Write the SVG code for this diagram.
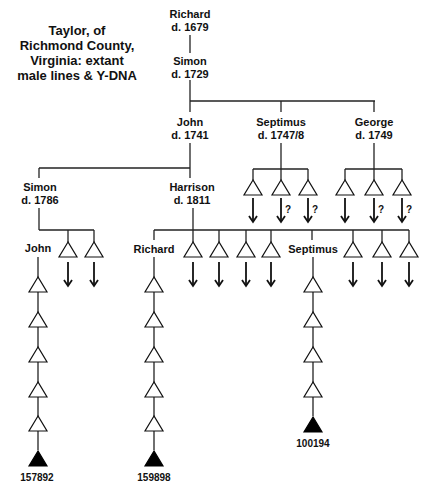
<svg xmlns="http://www.w3.org/2000/svg" xmlns:xlink="http://www.w3.org/1999/xlink" width="426" height="489" viewBox="0 0 426 489">
<style>
text{font-family:"Liberation Sans",Arial,sans-serif;font-weight:bold;fill:#111;text-anchor:middle}
.t{font-size:13px}
.n{font-size:11px}
.num{font-size:10px}
.q{font-size:10px;text-anchor:start}
.ln{stroke:#222;stroke-width:1.3;fill:none}
.tri{fill:#fff;stroke:#111;stroke-width:1.2}
.ftri{fill:#000;stroke:#000;stroke-width:1.2}
.arr{stroke:#111;stroke-width:1.8;fill:none}
</style>
<defs>
<path id="tri" d="M0,0 L-9,15 L9,15 Z"/>
<g id="arrow"><line x1="0" y1="0" x2="0" y2="24"/><polyline points="-4,18 0,24 4,18"/></g>
</defs>
<rect width="426" height="489" fill="#fff"/>
<g id="title">
<text class="t" x="77" y="35">Taylor, of</text>
<text class="t" x="77" y="50">Richmond County,</text>
<text class="t" x="77" y="65">Virginia: extant</text>
<text class="t" x="77" y="80">male lines &amp; Y-DNA</text>
</g>
<g id="connectors" class="ln">
<line x1="190" y1="35" x2="190" y2="53"/>
<line x1="190" y1="80" x2="190" y2="101"/>
<line x1="190" y1="101" x2="375" y2="101"/>
<line x1="190" y1="101" x2="190" y2="112"/>
<line x1="281" y1="101" x2="281" y2="112"/>
<line x1="374" y1="101" x2="374" y2="112"/>
<line x1="190" y1="143" x2="190" y2="178"/>
<line x1="39" y1="168" x2="190" y2="168"/>
<line x1="39" y1="168" x2="39" y2="178"/>
<line x1="281" y1="143" x2="281" y2="180"/>
<line x1="253" y1="169" x2="308" y2="169"/>
<line x1="253" y1="169" x2="253" y2="180"/>
<line x1="308" y1="169" x2="308" y2="180"/>
<line x1="374" y1="143" x2="374" y2="180"/>
<line x1="345" y1="169" x2="402" y2="169"/>
<line x1="345" y1="169" x2="345" y2="180"/>
<line x1="402" y1="169" x2="402" y2="180"/>
<line x1="39" y1="208" x2="39" y2="230"/>
<line x1="39" y1="230" x2="94" y2="230"/>
<line x1="68" y1="230" x2="68" y2="242"/>
<line x1="94" y1="230" x2="94" y2="242"/>
<line x1="193" y1="208" x2="193" y2="242"/>
<line x1="154" y1="230" x2="409" y2="230"/>
<line x1="154" y1="230" x2="154" y2="240"/>
<line x1="219" y1="230" x2="219" y2="242"/>
<line x1="246" y1="230" x2="246" y2="242"/>
<line x1="271" y1="230" x2="271" y2="242"/>
<line x1="312" y1="230" x2="312" y2="240"/>
<line x1="353" y1="230" x2="353" y2="242"/>
<line x1="382" y1="230" x2="382" y2="242"/>
<line x1="409" y1="230" x2="409" y2="242"/>
<line x1="38" y1="257" x2="38" y2="450"/>
<line x1="154" y1="257" x2="154" y2="450"/>
<line x1="313" y1="257" x2="313" y2="416"/>
</g>
<g id="p_richard1679"><text class="n" x="190" y="18">Richard</text><text class="n" x="190" y="31">d. 1679</text></g>
<g id="p_simon1729"><text class="n" x="190" y="65">Simon</text><text class="n" x="190" y="78">d. 1729</text></g>
<g id="p_john1741"><text class="n" x="190" y="126">John</text><text class="n" x="190" y="139">d. 1741</text></g>
<g id="p_septimus1747"><text class="n" x="281" y="126">Septimus</text><text class="n" x="281" y="139">d. 1747/8</text></g>
<g id="p_george1749"><text class="n" x="374" y="126">George</text><text class="n" x="374" y="139">d. 1749</text></g>
<g id="p_simon1786"><text class="n" x="40" y="191">Simon</text><text class="n" x="40" y="204">d. 1786</text></g>
<g id="p_harrison1811"><text class="n" x="192" y="191">Harrison</text><text class="n" x="192" y="204">d. 1811</text></g>
<g id="p_john"><text class="n" x="38" y="252">John</text></g>
<g id="p_richard"><text class="n" x="154" y="253">Richard</text></g>
<g id="p_septimus"><text class="n" x="313" y="253">Septimus</text></g>
<g id="sons_septimus1747">
<use xlink:href="#tri" class="tri" x="253" y="180"/><use xlink:href="#tri" class="tri" x="281" y="180"/><use xlink:href="#tri" class="tri" x="308" y="180"/>
<use xlink:href="#arrow" class="arr" x="253" y="198"/><use xlink:href="#arrow" class="arr" x="281" y="198"/><use xlink:href="#arrow" class="arr" x="308" y="198"/>
<text class="q" x="285" y="213">?</text><text class="q" x="312" y="213">?</text>
</g>
<g id="sons_george1749">
<use xlink:href="#tri" class="tri" x="345" y="180"/><use xlink:href="#tri" class="tri" x="374" y="180"/><use xlink:href="#tri" class="tri" x="402" y="180"/>
<use xlink:href="#arrow" class="arr" x="345" y="198"/><use xlink:href="#arrow" class="arr" x="374" y="198"/><use xlink:href="#arrow" class="arr" x="402" y="198"/>
<text class="q" x="378" y="213">?</text><text class="q" x="406" y="213">?</text>
</g>
<g id="sons_simon1786">
<use xlink:href="#tri" class="tri" x="68" y="242"/><use xlink:href="#tri" class="tri" x="94" y="242"/>
<use xlink:href="#arrow" class="arr" x="68" y="262"/><use xlink:href="#arrow" class="arr" x="94" y="262"/>
</g>
<g id="sons_harrison1811">
<use xlink:href="#tri" class="tri" x="193" y="242"/><use xlink:href="#tri" class="tri" x="219" y="242"/><use xlink:href="#tri" class="tri" x="246" y="242"/><use xlink:href="#tri" class="tri" x="271" y="242"/>
<use xlink:href="#tri" class="tri" x="353" y="242"/><use xlink:href="#tri" class="tri" x="382" y="242"/><use xlink:href="#tri" class="tri" x="409" y="242"/>
<use xlink:href="#arrow" class="arr" x="193" y="262"/><use xlink:href="#arrow" class="arr" x="219" y="262"/><use xlink:href="#arrow" class="arr" x="246" y="262"/><use xlink:href="#arrow" class="arr" x="271" y="262"/>
<use xlink:href="#arrow" class="arr" x="353" y="262"/><use xlink:href="#arrow" class="arr" x="382" y="262"/><use xlink:href="#arrow" class="arr" x="409" y="262"/>
</g>
<g id="line_john">
<use xlink:href="#tri" class="tri" x="38" y="277"/><use xlink:href="#tri" class="tri" x="38" y="312"/><use xlink:href="#tri" class="tri" x="38" y="347"/><use xlink:href="#tri" class="tri" x="38" y="382"/><use xlink:href="#tri" class="tri" x="38" y="416"/>
<use xlink:href="#tri" class="ftri" x="38" y="451"/>
<text class="num" x="37" y="481">157892</text>
</g>
<g id="line_richard">
<use xlink:href="#tri" class="tri" x="154" y="277"/><use xlink:href="#tri" class="tri" x="154" y="312"/><use xlink:href="#tri" class="tri" x="154" y="347"/><use xlink:href="#tri" class="tri" x="154" y="382"/><use xlink:href="#tri" class="tri" x="154" y="416"/>
<use xlink:href="#tri" class="ftri" x="154" y="451"/>
<text class="num" x="154" y="481">159898</text>
</g>
<g id="line_septimus">
<use xlink:href="#tri" class="tri" x="313" y="277"/><use xlink:href="#tri" class="tri" x="313" y="312"/><use xlink:href="#tri" class="tri" x="313" y="347"/><use xlink:href="#tri" class="tri" x="313" y="382"/>
<use xlink:href="#tri" class="ftri" x="313" y="417"/>
<text class="num" x="313" y="447">100194</text>
</g>
</svg>
